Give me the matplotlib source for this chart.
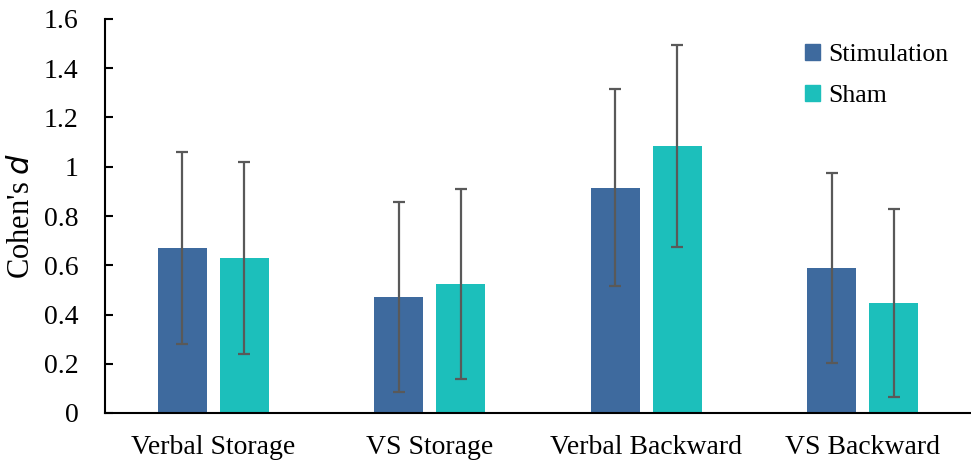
import numpy as np
import matplotlib.pyplot as plt
from matplotlib.patches import Patch

categories = ['Verbal Storage', 'VS Storage', 'Verbal Backward', 'VS Backward']
stim = [0.67, 0.47, 0.914, 0.589]
stim_err = [0.39, 0.385, 0.40, 0.385]
sham = [0.63, 0.523, 1.084, 0.447]
sham_err = [0.39, 0.385, 0.41, 0.383]

plt.rcParams['font.family'] = ['Liberation Serif', 'DejaVu Serif']

fig = plt.figure(figsize=(9.71, 4.66), dpi=100)
ax = fig.add_axes([105 / 971, 53 / 466, 866 / 971, 394 / 466])

x = np.arange(len(categories))
w = 0.226
off = 0.143
ax.bar(x - off, stim, w, color='#3E6A9E', label='Stimulation')
ax.bar(x + off, sham, w, color='#1CBFBB', label='Sham')
ax.errorbar(x - off, stim, yerr=stim_err, fmt='none', ecolor='#595959',
            elinewidth=1.6, capsize=4.5, capthick=1.6)
ax.errorbar(x + off, sham, yerr=sham_err, fmt='none', ecolor='#595959',
            elinewidth=1.6, capsize=4.5, capthick=1.6)

ax.set_xlim(-0.5, 3.5)
ax.set_ylim(0, 1.6)
ax.set_yticks(np.arange(0, 1.61, 0.2))
ax.set_yticklabels(['0', '0.2', '0.4', '0.6', '0.8', '1', '1.2', '1.4', '1.6'])
ax.set_xticks(x)
ax.set_xticklabels(categories)
ax.tick_params(axis='x', length=0, pad=16, labelsize=20)
ax.tick_params(axis='y', length=6, width=1.5, direction='in', labelsize=20, pad=19)
for s in ['top', 'right']:
    ax.spines[s].set_visible(False)
ax.spines['left'].set_linewidth(1.5)
ax.spines['bottom'].set_linewidth(1.5)
ax.set_ylabel("Cohen's $\\it{d}$", fontsize=22, labelpad=6)

handles = [Patch(color='#3E6A9E'), Patch(color='#1CBFBB')]
ax.legend(handles, ['Stimulation', 'Sham'], loc='upper right', frameon=False,
          fontsize=18.5, handlelength=0.6, handleheight=0.6, handletextpad=0.3,
          labelspacing=0.72, bbox_to_anchor=(1.0, 0.995))

fig.savefig('out.png', dpi=100)
